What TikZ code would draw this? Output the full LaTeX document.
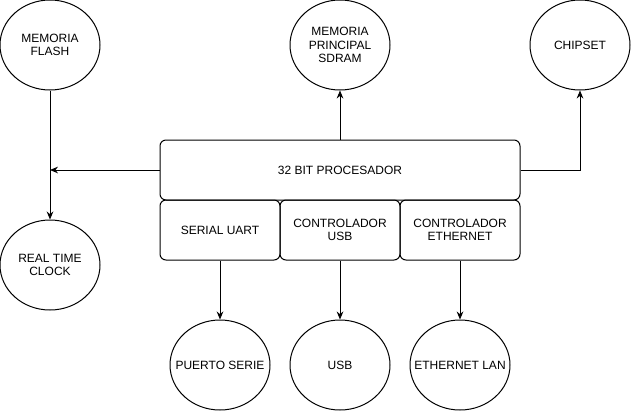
\documentclass[tikz,border=0pt]{standalone}
\usepackage{fontspec}
\setmainfont{Liberation Sans}
\usetikzlibrary{shapes.geometric,arrows.meta}

\begin{document}
\begin{tikzpicture}[x=0.75pt, y=-0.75pt, line width=0.75pt,
  every node/.style={font=\fontsize{9}{10.2}\selectfont, align=center},
  unit/.style={ellipse, draw, minimum width=75pt, minimum height=67.5pt, inner ysep=0pt, inner xsep=-10pt},
  block/.style={draw, rounded corners=4.5pt, minimum width=90pt, minimum height=45pt, inner sep=0pt},
  arr/.style={-{Stealth[length=6pt, width=5pt]}}]
\useasboundingbox (0,0) rectangle (631,411);

% Top units
\node[unit] (flash) at (50,45) {MEMORIA\\FLASH};
\node[unit] (sdram) at (340,45) {MEMORIA\\PRINCIPAL\\SDRAM};
\node[unit] (chipset) at (580,45) {CHIPSET};

% Processor
\node[block, minimum width=270pt] (proc) at (340,170) {32 BIT PROCESADOR};

% Controllers
\node[block] (uart) at (220,230) {SERIAL UART};
\node[block] (ctrlusb) at (340,230) {CONTROLADOR\\USB};
\node[block] (ctrleth) at (460,230) {CONTROLADOR\\ETHERNET};

% Left and bottom units
\node[unit] (rtc) at (50,265) {REAL TIME\\CLOCK};
\node[unit] (serie) at (220,365) {PUERTO SERIE};
\node[unit] (usb) at (340,365) {USB};
\node[unit] (lan) at (460,365) {ETHERNET LAN};

% Arrows
\coordinate (bus) at (flash.south |- proc.west);
\draw[arr] (flash) -- (rtc);
\draw[arr] (proc) -- (bus);
\draw[arr] (proc) -- (sdram);
\draw[arr] (proc.east) -| (chipset.south);
\draw[arr] (uart) -- (serie);
\draw[arr] (ctrlusb) -- (usb);
\draw[arr] (ctrleth) -- (lan);

\end{tikzpicture}
\end{document}
